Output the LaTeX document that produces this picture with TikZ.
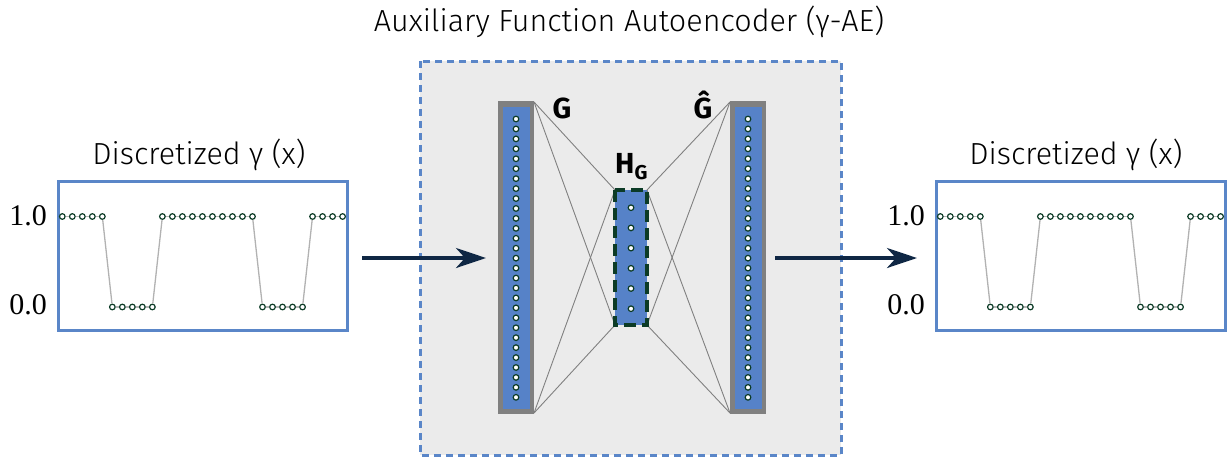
\documentclass[tikz,border=0pt]{standalone}
\usepackage{fontspec}
\setmainfont{Fira Sans}[UprightFont={* Light},BoldFont={* Bold}]
\newfontfamily\numfont{Liberation Serif}
\usetikzlibrary{arrows.meta}
\definecolor{boxblue}{HTML}{5A86C8}
\definecolor{barblue}{HTML}{5682C8}
\definecolor{bargray}{HTML}{808080}
\definecolor{bggray}{HTML}{EBEBEB}
\definecolor{navy}{HTML}{0F2744}
\definecolor{dotgreen}{HTML}{0C3B26}
\tikzset{
  ptdot/.style={circle,draw=dotgreen,fill=white,line width=1.2pt,inner sep=0pt,minimum size=5.6pt},
  plotbox/.style={draw=boxblue,line width=3pt},
  plotline/.style={draw=black!30,line width=1.3pt},
  wire/.style={draw=black!50,line width=0.9pt},
  flow/.style={draw=navy,line width=3.6pt,-{Stealth[length=30pt,width=20pt,inset=9pt]}},
  titletext/.style={font=\fontsize{30.5}{34}\selectfont},
  numtext/.style={font=\numfont\fontsize{30}{32}\selectfont},
  lbl/.style={font=\bfseries\fontsize{29}{32}\selectfont}
}
\begin{document}
\begin{tikzpicture}[x=1pt,y=-1pt]
\useasboundingbox (0,0) rectangle (1227,459);
% title
\node[titletext] (title) at (629,22) {Auxiliary Function Autoencoder (γ-AE)};
% central dashed box
\draw[fill=bggray,draw=boxblue,line width=3pt,dash pattern=on 7pt off 5pt] (420,61) rectangle (841,455);
% plots
\foreach \side/\off/\cx in {L/0/199,R/878/1076}{
  \node[titletext] (dt\side) at (\cx,155) {Discretized γ (x)};
  \draw[plotbox] (58+\off,181) rectangle (347+\off,330);
  \node[numtext] (one\side) at (28+\off,216) {1.0};
  \node[numtext] (zero\side) at (28+\off,305) {0.0};
  \foreach \v [count=\i] in {1,1,1,1,1,0,0,0,0,0,1,1,1,1,1,1,1,1,1,1,0,0,0,0,0,1,1,1,1}{
    \pgfmathsetmacro\yy{\v==1 ? 216.5 : 307}
    \node[ptdot] (\side\i) at ({62.3+10.01*(\i-1)+\off},\yy) {};
  }
  \foreach \i [evaluate=\i as \j using int(\i+1)] in {1,...,28}{
    \draw[plotline] (\side\i) -- (\side\j);
  }
}
% bars
\fill[bargray] (498,101) rectangle (534,414);
\fill[barblue] (503,106.5) rectangle (529.5,409);
\fill[bargray] (730,101) rectangle (766,414);
\fill[barblue] (735,106.5) rectangle (761.5,409);
\coordinate (gTR) at (534,102);
\coordinate (gBR) at (534,413);
\coordinate (hTL) at (615,190);
\coordinate (hBL) at (615,325);
\coordinate (hTR) at (647,190);
\coordinate (hBR) at (647,325);
\coordinate (oTL) at (730,102);
\coordinate (oBL) at (730,413);
\draw[wire] (gTR) -- (hTL);
\draw[wire] (gTR) -- (hBL);
\draw[wire] (gBR) -- (hTL);
\draw[wire] (gBR) -- (hBL);
\draw[wire] (hTR) -- (oTL);
\draw[wire] (hTR) -- (oBL);
\draw[wire] (hBR) -- (oTL);
\draw[wire] (hBR) -- (oBL);
\fill[barblue] (hTL) rectangle (hBR);
\draw[draw=dotgreen,line width=3.8pt,dash pattern=on 12pt off 6pt] (hTL) rectangle (hBR);
\foreach \i in {1,...,29}{
  \node[ptdot] (g\i) at (516,{119+9.94*(\i-1)}) {};
  \node[ptdot] (o\i) at (748,{119+9.94*(\i-1)}) {};
}
\foreach \i in {1,...,6}{
  \node[ptdot] (h\i) at (631,{207.7+20.2*(\i-1)}) {};
}
% labels
\node[lbl] (G) at (562,108) {G};
\node[lbl,anchor=base] (Ghat) at (703,118) {Ĝ};
\node[lbl,anchor=base west,inner sep=0pt] (HG) at (615,173) {H\raisebox{-6pt}{\fontsize{20}{22}\selectfont G}};
% arrows
\coordinate (a1s) at (362,258);
\coordinate (a1e) at (486,258);
\coordinate (a2s) at (775,258);
\coordinate (a2e) at (917,258);
\draw[flow] (a1s) -- (a1e);
\draw[flow] (a2s) -- (a2e);
\end{tikzpicture}
\end{document}
